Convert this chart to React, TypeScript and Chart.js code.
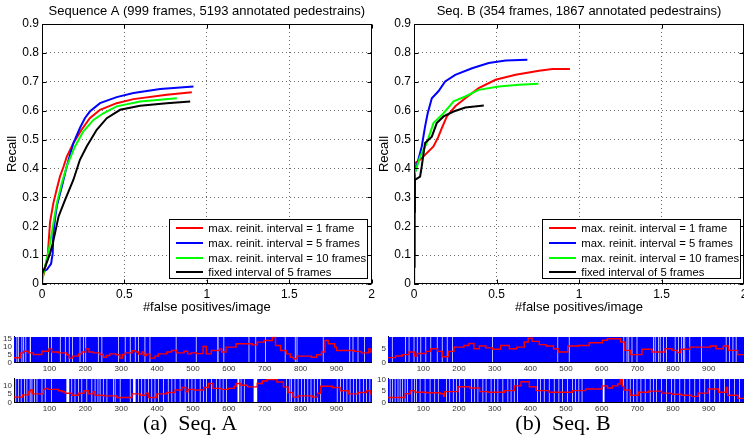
import React, { useEffect, useRef } from "react";
import { Chart, registerables } from "chart.js";

Chart.register(...registerables);

const SANS = "'Liberation Sans', Arial, Helvetica, sans-serif";
const SERIF = "'Liberation Serif', 'Times New Roman', Times, serif";

const seriesLabels = [
  "max. reinit. interval = 1 frame",
  "max. reinit. interval = 5 frames",
  "max. reinit. interval = 10 frames",
  "fixed interval of 5 frames",
];
const seriesColors = ["#ff0000", "#0000ff", "#00ff00", "#000000"];

const titleA = "Sequence A (999 frames, 5193 annotated pedestrains)";
const titleB = "Seq. B (354 frames, 1867 annotated pedestrains)";
const xTitle = "#false positives/image";
const yTitle = "Recall";

// ---- Sequence A recall curves ----
const aFpRed = [0.01, 0.02, 0.035, 0.049, 0.069, 0.09, 0.109, 0.13, 0.15, 0.19, 0.24, 0.29, 0.352, 0.453, 0.555, 0.757, 0.909];
const aRecRed = [0.03, 0.06, 0.1, 0.216, 0.28, 0.33, 0.372, 0.405, 0.44, 0.487, 0.534, 0.574, 0.603, 0.626, 0.64, 0.655, 0.664];
const aFpBlue = [0.0, 0.01, 0.03, 0.055, 0.065, 0.069, 0.08, 0.09, 0.12, 0.15, 0.19, 0.23, 0.26, 0.29, 0.352, 0.453, 0.555, 0.717, 0.919];
const aRecBlue = [0.03, 0.045, 0.05, 0.07, 0.106, 0.176, 0.23, 0.27, 0.337, 0.407, 0.487, 0.54, 0.574, 0.597, 0.626, 0.647, 0.661, 0.675, 0.684];
const aFpGreen = [0.0, 0.01, 0.028, 0.045, 0.059, 0.075, 0.09, 0.12, 0.15, 0.2, 0.25, 0.312, 0.372, 0.453, 0.595, 0.818];
const aRecGreen = [0.0, 0.04, 0.083, 0.13, 0.176, 0.23, 0.28, 0.349, 0.407, 0.476, 0.528, 0.568, 0.591, 0.615, 0.632, 0.643];
const aFpBlack = [0.0, 0.02, 0.049, 0.065, 0.079, 0.1, 0.14, 0.19, 0.23, 0.271, 0.332, 0.393, 0.474, 0.595, 0.757, 0.899];
const aRecBlack = [0.035, 0.06, 0.106, 0.14, 0.176, 0.233, 0.291, 0.36, 0.43, 0.476, 0.534, 0.574, 0.603, 0.617, 0.626, 0.632];

// ---- Sequence B recall curves ----
const bFpRed = [0.002, 0.004, 0.006, 0.037, 0.067, 0.118, 0.148, 0.169, 0.199, 0.25, 0.311, 0.392, 0.494, 0.616, 0.758, 0.839, 0.945];
const bRecRed = [0.1, 0.35, 0.418, 0.43, 0.447, 0.476, 0.51, 0.54, 0.58, 0.615, 0.643, 0.678, 0.707, 0.724, 0.738, 0.744, 0.744];
const bFpBlue = [0.002, 0.004, 0.006, 0.026, 0.047, 0.067, 0.083, 0.108, 0.148, 0.189, 0.25, 0.352, 0.453, 0.555, 0.687];
const bRecBlue = [0.06, 0.3, 0.384, 0.43, 0.476, 0.545, 0.591, 0.643, 0.667, 0.701, 0.724, 0.747, 0.765, 0.774, 0.776];
const bFpGreen = [0.001, 0.002, 0.037, 0.077, 0.118, 0.179, 0.24, 0.311, 0.392, 0.514, 0.636, 0.754];
const bRecGreen = [0.0, 0.378, 0.441, 0.488, 0.557, 0.591, 0.632, 0.649, 0.672, 0.684, 0.69, 0.693];
const bFpBlack = [0.002, 0.004, 0.006, 0.037, 0.047, 0.067, 0.108, 0.138, 0.179, 0.24, 0.311, 0.423];
const bRecBlack = [0.25, 0.3, 0.36, 0.372, 0.407, 0.488, 0.51, 0.557, 0.58, 0.597, 0.611, 0.618];

// ---- per-frame strips: red step line [frame, count] and white gap ranges [from, to] ----
const stripFrameTicks = [100, 200, 300, 400, 500, 600, 700, 800, 900];

const aTopRed = [[1,3],[20,6],[28,7],[40,6],[55,5],[79,7],[98,8.5],[106,6.5],[125,6],[148,4.8],[155,2.7],[165,4],[181,5.4],[190,6.5],[201,8.5],[210,6.5],[222,6],[240,5],[250,3.3],[258,4.4],[268,5.4],[285,4.8],[296,2.7],[303,4.8],[311,6],[330,7.3],[340,6.5],[348,5.2],[358,6.5],[363,4.4],[370,5.2],[380,2.7],[394,4],[403,5.4],[427,6.5],[440,7.5],[455,6],[475,7],[485,5.4],[495,6],[510,5.5],[528,10],[537,5.4],[551,7.5],[574,8.5],[580,6.5],[592,9.6],[620,11.7],[665,11],[679,12.7],[698,13.7],[721,15.8],[730,10.6],[744,7.5],[760,5.4],[771,3.3],[780,2.3],[790,4],[830,3.3],[845,4.8],[858,6.5],[868,13.7],[877,11.7],[895,9.6],[900,7.5],[950,6.9],[969,6],[990,8.5],[996,6.5],[999,6.5]];
const aTopGaps = [[8,10],[13,15],[22,24],[27,29],[33,35],[45,48],[96,98],[105,107],[129,131],[143,145],[154,156],[163,165],[184,186],[194,196],[200,202],[235,237],[245,247],[291,293],[310,312],[324,326],[338,340],[347,349],[365,367],[379,381],[452,454],[508,510],[568,571],[585,587],[655,657],[674,676],[701,703],[756,758],[784,786],[789,791],[862,864],[936,938],[945,947],[959,961],[977,979]];

const aBottomRed = [[1,3.1],[25,4.4],[41,6.3],[46,7.3],[52,5],[83,7.7],[88,8.3],[95,7.7],[125,6.9],[135,6.3],[144,5.4],[162,4.2],[180,5.4],[196,6.9],[208,5],[222,6.3],[227,4.2],[251,3.8],[288,2.9],[330,5],[353,4.2],[368,5.4],[376,2.9],[399,5],[427,5.8],[450,7.3],[469,8.8],[480,6.3],[486,7.7],[502,7.3],[530,8.8],[543,11.2],[556,8.3],[579,7.7],[598,8.3],[615,9.6],[620,11.2],[634,10.2],[652,9.2],[679,11.2],[693,12.7],[706,13.5],[734,12.1],[752,9.2],[765,5.8],[779,3.1],[793,3.8],[833,3.1],[847,5.4],[856,9.6],[888,8.8],[910,6.9],[934,5],[960,5.8],[983,6.9],[994,5],[999,5]];
const aBottomGaps = [[1,4],[5,7],[13,15],[20,22],[29,31],[36,38],[45,47],[50,52],[57,59],[64,66],[78,80],[87,89],[105,107],[147,155],[161,163],[170,172],[180,182],[189,191],[203,205],[217,219],[226,228],[234,236],[240,242],[249,251],[259,261],[277,279],[282,284],[296,298],[324,326],[333,340],[347,349],[356,358],[365,367],[375,377],[384,386],[393,395],[403,405],[417,419],[430,432],[440,442],[449,451],[463,465],[477,479],[487,489],[496,498],[505,507],[519,521],[528,530],[537,539],[551,553],[564,566],[574,576],[583,585],[592,594],[624,629],[633,635],[642,644],[669,679],[760,762],[769,771],[774,776],[783,785],[792,794],[801,803],[810,812],[819,821],[828,830],[837,839],[846,848],[855,857],[901,903],[910,912],[919,921],[928,930],[937,939],[946,948],[955,957],[964,966],[974,976],[983,985],[992,994]];

const bTopRed = [[1,1.8],[22,2.4],[41,2.9],[60,3.9],[76,2.4],[83,3.3],[107,4.1],[121,5.1],[140,4.1],[153,2.1],[170,4.1],[186,5.7],[214,6.3],[228,7],[242,5.1],[257,6.1],[275,5.4],[295,4.9],[317,6.3],[341,5.1],[362,5.7],[383,7.6],[394,9],[405,7.8],[425,6.6],[444,6.1],[465,5.1],[478,3.9],[505,6.1],[535,6.3],[565,7.3],[602,8.2],[616,8.8],[653,7.6],[665,4.5],[681,2.9],[713,4.9],[741,3.9],[778,5.1],[797,4.5],[812,3.7],[822,4.9],[847,5.7],[905,6.1],[921,5.1],[941,6.1],[956,4.5],[981,2.9],[999,2.9]];
const bTopGaps = [[12,14],[49,51],[59,61],[73,75],[82,84],[92,94],[106,108],[120,122],[138,140],[152,154],[166,168],[181,183],[293,295],[476,478],[508,510],[661,663],[670,672],[675,677],[684,686],[698,700],[744,746],[749,751],[758,760],[763,765],[772,774],[781,783],[805,807],[814,816],[823,825],[828,830],[832,834],[846,848],[879,881],[948,950],[957,959],[967,969],[976,978]];

const bBottomRed = [[1,2.1],[49,3.75],[63,5.1],[77,4.4],[109,4.2],[147,3.75],[157,2.6],[160,4.7],[197,6.8],[230,6.25],[258,4.7],[281,4.4],[328,5.1],[355,7.2],[374,9],[397,6.8],[416,5.1],[453,4.4],[518,5.1],[555,5.8],[601,7.2],[616,6.25],[630,7.2],[645,8],[652,10],[658,7],[662,5.4],[680,3.1],[703,4.4],[731,4.9],[768,4],[796,3.5],[824,3.1],[852,2.6],[870,4],[898,5.8],[928,4.4],[949,6.5],[953,3.1],[982,1.7],[999,1.7]];
const bBottomGaps = [[6,8],[13,15],[20,22],[28,30],[34,36],[41,43],[48,50],[55,57],[67,69],[74,76],[80,82],[90,92],[104,106],[118,120],[131,133],[141,143],[164,166],[173,175],[183,185],[192,194],[201,203],[215,217],[234,236],[243,245],[252,254],[266,268],[275,277],[289,291],[299,301],[308,310],[322,324],[336,338],[345,347],[354,356],[363,365],[419,421],[428,430],[438,440],[452,454],[466,468],[479,481],[489,491],[503,505],[517,519],[526,528],[535,537],[544,546],[603,608],[660,662],[670,672],[679,681],[688,690],[698,700],[709,711],[721,723],[735,737],[744,746],[753,755],[767,769],[781,783],[795,797],[804,806],[818,820],[832,834],[846,848],[860,862],[874,876],[888,890],[902,904],[916,918],[930,932],[943,945],[957,959],[971,973],[985,987]];

const fmt = (v: any) => String(Math.round(Number(v) * 10) / 10);

// ---- plugins ----
const boxPlugin = {
  id: "matlabBox",
  afterDraw(chart: any) {
    const { ctx, chartArea, scales } = chart;
    const L = Math.round(chartArea.left) + 0.5;
    const R = Math.round(chartArea.right) - 0.5;
    const T = Math.round(chartArea.top) + 0.5;
    const B = Math.round(chartArea.bottom) - 0.5;
    ctx.save();
    ctx.strokeStyle = "#000";
    ctx.lineWidth = 1;
    ctx.strokeRect(L, T, R - L, B - T);
    const tl = 4;
    ctx.beginPath();
    scales.x.ticks.forEach((t: any) => {
      const px = Math.round(scales.x.getPixelForValue(t.value)) + 0.5;
      ctx.moveTo(px, B); ctx.lineTo(px, B - tl);
      ctx.moveTo(px, T); ctx.lineTo(px, T + tl);
    });
    scales.y.ticks.forEach((t: any) => {
      const py = Math.round(scales.y.getPixelForValue(t.value)) + 0.5;
      ctx.moveTo(L, py); ctx.lineTo(L + tl, py);
      ctx.moveTo(R, py); ctx.lineTo(R - tl, py);
    });
    ctx.stroke();
    ctx.restore();
  },
};

function rocConfig(title: string, xs: number[][], ys: number[][], yAxisWidth: number, yTitlePad: number, padRight: number, clipRight: boolean) {
  return {
    type: "line",
    data: {
      datasets: xs.map((xv, i) => ({
        label: seriesLabels[i],
        data: xv.map((x, j) => ({ x, y: ys[i][j] })),
        borderColor: seriesColors[i],
        backgroundColor: seriesColors[i],
        borderWidth: 2,
        pointRadius: 0,
        tension: 0,
        fill: false,
        order: 3 - i,
      })),
    },
    options: {
      animation: false,
      responsive: false,
      events: [],
      layout: { padding: { left: 0, right: padRight, top: 0, bottom: 0 } },
      plugins: {
        legend: { display: false },
        tooltip: { enabled: false },
        title: {
          display: true,
          text: title,
          fullSize: false,
          color: "#000",
          font: { family: SANS, size: 13, weight: "normal", lineHeight: 1.2 },
          padding: { top: 3.2, bottom: 5.2 },
        },
      },
      scales: {
        x: {
          type: "linear",
          min: 0,
          max: 2,
          ticks: { stepSize: 0.5, color: "#000", font: { family: SANS, size: 12 }, padding: 3, maxRotation: 0, callback: fmt },
          grid: { color: "#6a6a6a", lineWidth: 1, drawTicks: false },
          border: { display: false, dash: [1, 3] },
          title: { display: true, text: xTitle, color: "#000", font: { family: SANS, size: 13, lineHeight: 1.2 }, padding: { top: 0, bottom: 1.2 } },
          afterFit(s: any) {
            s.height = 32;
            if (clipRight) s.paddingRight = 0;
          },
        },
        y: {
          type: "linear",
          min: 0,
          max: 0.9,
          ticks: { stepSize: 0.1, color: "#000", font: { family: SANS, size: 12 }, padding: 3, callback: fmt },
          grid: { color: "#6a6a6a", lineWidth: 1, drawTicks: false },
          border: { display: false, dash: [1, 3] },
          title: { display: true, text: yTitle, color: "#000", font: { family: SANS, size: 13, lineHeight: 1.2 }, padding: { top: yTitlePad, bottom: 0 } },
          afterFit(s: any) {
            s.width = yAxisWidth;
          },
        },
      },
    },
    plugins: [boxPlugin],
  };
}

function stripConfig(red: number[][], gaps: number[][], yMax: number, yTicks: number[], yAxisWidth: number, padTop: number, xAxisHeight: number) {
  const cover: any[] = [{ x: 1, y: yMax }];
  gaps.forEach(([s, e]) => {
    cover.push({ x: s, y: 0 });
    cover.push({ x: e, y: yMax });
  });
  cover.push({ x: 999, y: yMax });
  const tickFont = { family: SANS, size: 8 };
  return {
    type: "line",
    data: {
      datasets: [
        {
          data: red.map(([x, y]) => ({ x, y })),
          stepped: true,
          borderColor: "#ff0000",
          borderWidth: 1.4,
          pointRadius: 0,
          fill: false,
          order: 0,
        },
        {
          data: cover,
          stepped: true,
          borderColor: "rgba(0,0,0,0)",
          borderWidth: 0,
          backgroundColor: "#0000ff",
          pointRadius: 0,
          fill: "origin",
          order: 1,
        },
      ],
    },
    options: {
      animation: false,
      responsive: false,
      events: [],
      layout: { padding: { left: 0, right: 0, top: padTop, bottom: 0 } },
      plugins: { legend: { display: false }, tooltip: { enabled: false }, title: { display: false } },
      scales: {
        x: {
          type: "linear",
          min: 1,
          max: 999,
          z: 1,
          afterBuildTicks(s: any) {
            s.ticks = stripFrameTicks.map((v) => ({ value: v }));
          },
          ticks: { color: "#333", font: tickFont, padding: 1.5, maxRotation: 0, autoSkip: false, callback: (v: any) => String(v) },
          grid: { display: false, drawTicks: false },
          border: { display: true, color: "#000", width: 1 },
          afterFit(s: any) {
            s.height = xAxisHeight;
          },
        },
        y: {
          type: "linear",
          min: 0,
          max: yMax,
          z: 1,
          afterBuildTicks(s: any) {
            s.ticks = yTicks.map((v) => ({ value: v }));
          },
          ticks: { color: "#333", font: tickFont, padding: 2, autoSkip: false, callback: (v: any) => String(v) },
          grid: { display: false, drawTicks: false },
          border: { display: true, color: "#000", width: 1 },
          afterFit(s: any) {
            s.width = yAxisWidth;
          },
        },
      },
    },
  };
}

function ChartCanvas(props: { left: number; top: number; width: number; height: number; make: () => any }) {
  const ref = useRef<HTMLCanvasElement>(null);
  useEffect(() => {
    const chart = new Chart(ref.current as HTMLCanvasElement, props.make());
    return () => chart.destroy();
  }, []);
  return (
    <canvas
      ref={ref}
      width={props.width}
      height={props.height}
      style={{ position: "absolute", left: props.left, top: props.top, width: props.width, height: props.height }}
    />
  );
}

function Legend(props: { left: number; top: number }) {
  return (
    <div
      style={{
        position: "absolute",
        left: props.left,
        top: props.top,
        width: 199,
        height: 60,
        boxSizing: "border-box",
        border: "1px solid #000",
        background: "#fff",
        fontFamily: SANS,
        fontSize: 11.3,
        color: "#000",
      }}
    >
      {seriesLabels.map((name, i) => (
        <div
          key={name}
          style={{
            position: "absolute",
            left: 5.7,
            top: 1 + i * 14.7,
            height: 14.7,
            display: "flex",
            alignItems: "center",
            whiteSpace: "nowrap",
          }}
        >
          <span style={{ display: "inline-block", width: 27.6, height: 2, background: seriesColors[i], marginRight: 5 }} />
          <span>{name}</span>
        </div>
      ))}
    </div>
  );
}

function Caption(props: { cx: number; text: string }) {
  return (
    <div
      style={{
        position: "absolute",
        left: props.cx - 100,
        width: 200,
        top: 409,
        height: 28,
        lineHeight: "28px",
        textAlign: "center",
        fontFamily: SERIF,
        fontSize: 22,
        whiteSpace: "pre",
        color: "#000",
      }}
    >
      {props.text}
    </div>
  );
}

export default function App() {
  return (
    <div style={{ position: "fixed", left: 0, top: 0, width: 744, height: 437, background: "#fff", overflow: "hidden" }}>
      <ChartCanvas
        left={0}
        top={0}
        width={378}
        height={316}
        make={() => rocConfig(titleA, [aFpRed, aFpBlue, aFpGreen, aFpBlack], [aRecRed, aRecBlue, aRecGreen, aRecBlack], 42, 4.2, 5, false)}
      />
      <ChartCanvas
        left={376}
        top={0}
        width={368}
        height={316}
        make={() => rocConfig(titleB, [bFpRed, bFpBlue, bFpGreen, bFpBlack], [bRecRed, bRecBlue, bRecGreen, bRecBlack], 38, 0.5, 0, true)}
      />
      <Legend left={169} top={219} />
      <Legend left={542} top={219} />
      <ChartCanvas left={0} top={330} width={372} height={48} make={() => stripConfig(aTopRed, aTopGaps, 16, [0, 5, 10, 15], 14, 6.7, 15.5)} />
      <ChartCanvas left={0} top={372} width={372} height={46} make={() => stripConfig(aBottomRed, aBottomGaps, 14, [0, 5, 10], 14, 5.7, 15.7)} />
      <ChartCanvas left={372} top={330} width={372} height={48} make={() => stripConfig(bTopRed, bTopGaps, 9.5, [0, 5], 16, 6.7, 15.5)} />
      <ChartCanvas left={372} top={372} width={372} height={46} make={() => stripConfig(bBottomRed, bBottomGaps, 10.3, [0, 5, 10], 16, 5.7, 15.7)} />
      <Caption cx={190} text={"(a)  Seq. A"} />
      <Caption cx={563} text={"(b)  Seq. B"} />
    </div>
  );
}
